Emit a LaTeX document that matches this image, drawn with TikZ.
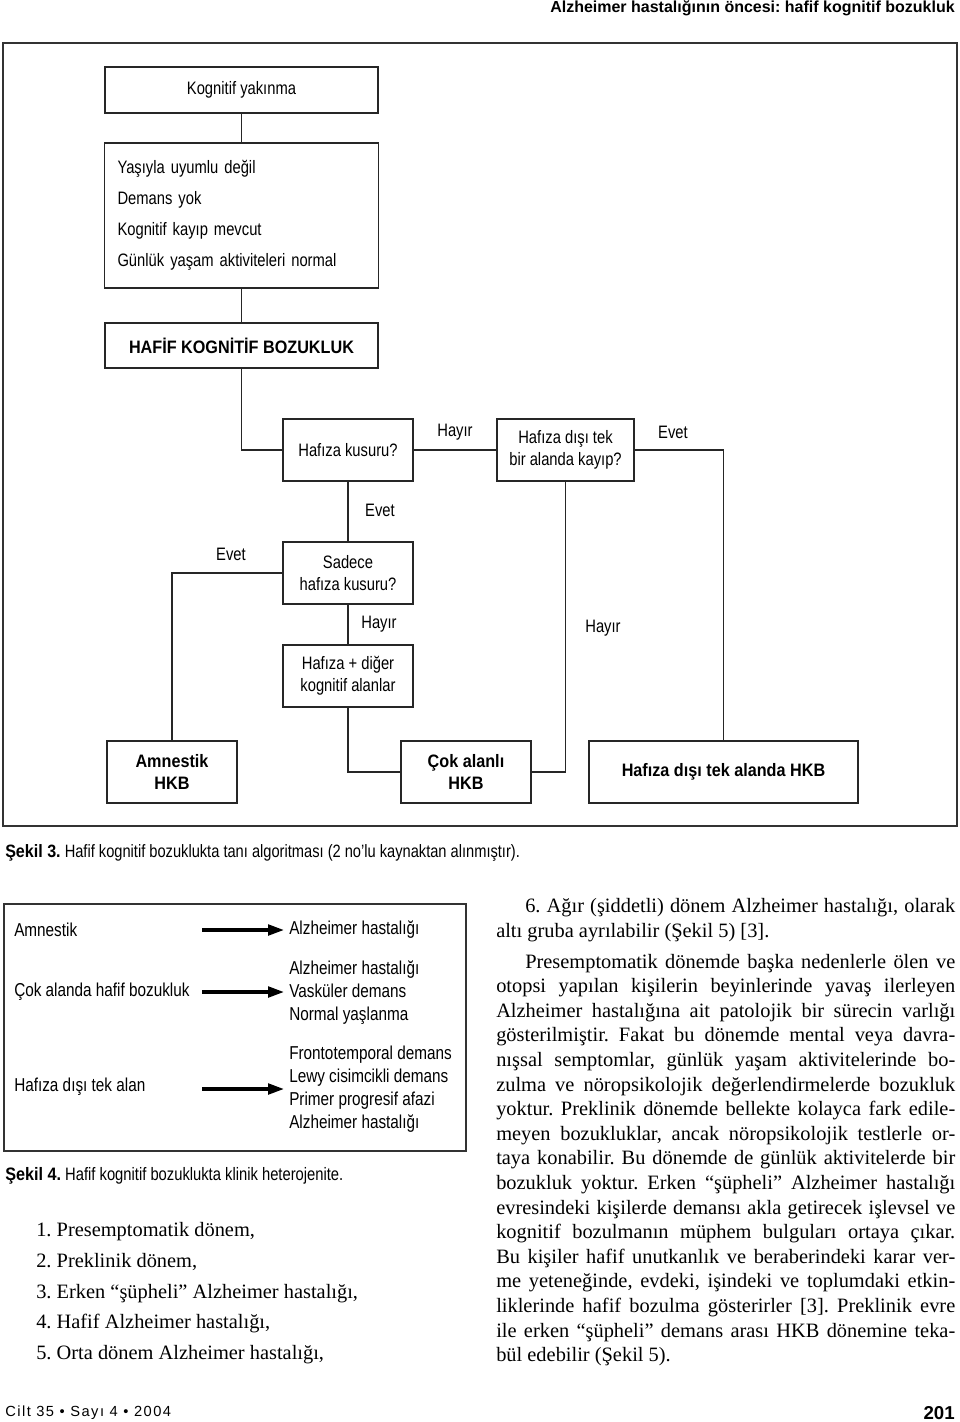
\documentclass[tikz,border=0pt]{standalone}
\usepackage{fontspec}
\setmainfont{Liberation Serif}
\newfontfamily\condsans[FakeStretch=0.82,BoldFeatures={FakeStretch=0.9}]{Liberation Sans}
\newfontfamily\plainsans{Liberation Sans}
\newfontfamily\spacedsans[LetterSpace=10]{Liberation Sans}
\usetikzlibrary{arrows.meta}
\frenchspacing

\newcommand{\jline}[1]{\makebox[344.25pt][s]{#1}}
\newcommand{\iline}[1]{\makebox[322.5pt][s]{#1}}

\begin{document}
\begin{tikzpicture}[x=0.75pt,y=-0.75pt,
  box/.style={draw=black!85,line width=0.9pt,inner sep=0pt,align=center,font=\condsans\fontsize{13.5}{16.6}\selectfont},
  sq/.style={box,minimum width=97.5pt,minimum height=46.5pt},
  hb/.style={font=\condsans\bfseries\fontsize{13.5}{16.6}\selectfont},
  lbl/.style={inner sep=0pt,font=\condsans\fontsize{13.5}{16}\selectfont},
  con/.style={black!85,line width=0.9pt},
  fig/.style={inner sep=0pt,anchor=west,align=left,font=\condsans\fontsize{14}{17.25}\selectfont},
  fat/.style={line width=2.4pt,-{Triangle[length=12pt,width=8pt]}},
  txt/.style={inner sep=0pt,anchor=base west,font=\fontsize{15.3}{18}\selectfont}]
\useasboundingbox (0,0) rectangle (960,1422);

\node[anchor=base east,inner sep=0pt,font=\plainsans\bfseries\fontsize{12}{14}\selectfont] (head) at (955,12) {Alzheimer hastalığının öncesi: hafif kognitif bozukluk};

% Sekil 3
\draw[black!80,line width=1.2pt] (3,43) rectangle (957,826);
\node[box,minimum width=204.75pt,minimum height=34.5pt] (kog) at (241.5,90) {Kognitif yakınma};
\node[box,align=left,text width=186pt,inner xsep=9.75pt,minimum height=108.75pt,font=\condsans\fontsize{13.5}{23.25}\selectfont] (crit) at (241.5,215.5) {Yaşıyla uyumlu değil\\Demans yok\\Kognitif kayıp mevcut\\Günlük yaşam aktiviteleri normal};
\node[box,hb,minimum width=204.75pt,minimum height=33.75pt] (hkb) at (241.5,345.5) {HAFİF KOGNİTİF BOZUKLUK};
\node[sq] (memq) at (348,450) {Hafıza kusuru?};
\node[sq,minimum width=102.75pt] (otherq) at (565.5,450) {Hafıza dışı tek\\bir alanda kayıp?};
\node[sq] (onlyq) at (348,573) {Sadece\\hafıza kusuru?};
\node[sq] (multi) at (348,676) {Hafıza + diğer\\kognitif alanlar};
\node[sq,hb] (amn) at (172,772) {Amnestik\\HKB};
\node[sq,hb] (cok) at (466,772) {Çok alanlı\\HKB};
\node[sq,hb,minimum width=201.75pt] (single) at (723.5,772) {Hafıza dışı tek alanda HKB};

\draw[con] (kog) -- (crit);
\draw[con] (crit) -- (hkb);
\draw[con] (hkb.south) |- (memq.west);
\draw[con] (memq) -- (otherq);
\draw[con] (otherq.east) -| (single.north);
\draw[con] (otherq.south) |- (cok.east);
\draw[con] (memq) -- (onlyq);
\draw[con] (onlyq.west) -| (amn.north);
\draw[con] (onlyq) -- (multi);
\draw[con] (multi.south) |- (cok.west);

\node[lbl] (no1) at (455,432) {Hayır};
\node[lbl] (yes1) at (673,432) {Evet};
\node[lbl] (yes2) at (380,510) {Evet};
\node[lbl] (yes3) at (231,554) {Evet};
\node[lbl] (no2) at (379,624) {Hayır};
\node[lbl] (no3) at (603,628) {Hayır};

\node[anchor=base west,inner sep=0pt,font=\condsans\fontsize{13.4}{16}\selectfont] (cap3) at (5,857) {\textbf{Şekil 3.} Hafif kognitif bozuklukta tanı algoritması (2 no’lu kaynaktan alınmıştır).};

% Sekil 4
\draw[black!80,line width=1pt] (4,904) rectangle (466,1151);
\node[fig] (f1) at (14,930) {Amnestik};
\node[fig] (f2) at (14,992) {Çok alanda hafif bozukluk};
\node[fig] (f3) at (14,1087) {Hafıza dışı tek alan};
\node[fig] (g1) at (289,930) {Alzheimer hastalığı};
\node[fig] (g2) at (289,993) {Alzheimer hastalığı\\Vasküler demans\\Normal yaşlanma};
\node[fig] (g3) at (289,1089) {Frontotemporal demans\\Lewy cisimcikli demans\\Primer progresif afazi\\Alzheimer hastalığı};
\coordinate (a1) at (202,930);
\coordinate (b1) at (284,930);
\coordinate (a2) at (202,992);
\coordinate (b2) at (284,992);
\coordinate (a3) at (202,1089);
\coordinate (b3) at (284,1089);
\draw[fat] (a1) -- (b1);
\draw[fat] (a2) -- (b2);
\draw[fat] (a3) -- (b3);

\node[anchor=base west,inner sep=0pt,font=\condsans\fontsize{13.5}{16}\selectfont] (cap4) at (5,1180) {\textbf{Şekil 4.} Hafif kognitif bozuklukta klinik heterojenite.};

% liste
\node[txt] (s1) at (36,1236) {1. Presemptomatik dönem,};
\node[txt] (s2) at (36,1267) {2. Preklinik dönem,};
\node[txt] (s3) at (36,1298) {3. Erken “şüpheli” Alzheimer hastalığı,};
\node[txt] (s4) at (36,1328) {4. Hafif Alzheimer hastalığı,};
\node[txt] (s5) at (36,1359) {5. Orta dönem Alzheimer hastalığı,};

% sag sutun
\node[txt] (r1) at (525,912) {\iline{6. Ağır (şiddetli) dönem Alzheimer hastalığı, olarak}};
\node[txt] (r2) at (496,937) {altı gruba ayrılabilir (Şekil 5) [3].};
\node[txt] (r3) at (525,968) {\iline{Presemptomatik dönemde başka nedenlerle ölen ve}};
\node[txt] (r4) at (496,992.6) {\jline{otopsi yapılan kişilerin beyinlerinde yavaş ilerleyen}};
\node[txt] (r5) at (496,1017.2) {\jline{Alzheimer hastalığına ait patolojik bir sürecin varlığı}};
\node[txt] (r6) at (496,1041.8) {\jline{gösterilmiştir. Fakat bu dönemde mental veya davra-}};
\node[txt] (r7) at (496,1066.4) {\jline{nışsal semptomlar, günlük yaşam aktivitelerinde bo-}};
\node[txt] (r8) at (496,1091) {\jline{zulma ve nöropsikolojik değerlendirmelerde bozukluk}};
\node[txt] (r9) at (496,1115.6) {\jline{yoktur. Preklinik dönemde bellekte kolayca fark edile-}};
\node[txt] (r10) at (496,1140.2) {\jline{meyen bozukluklar, ancak nöropsikolojik testlerle or-}};
\node[txt] (r11) at (496,1164.8) {\jline{taya konabilir. Bu dönemde de günlük aktivitelerde bir}};
\node[txt] (r12) at (496,1189.4) {\jline{bozukluk yoktur. Erken “şüpheli” Alzheimer hastalığı}};
\node[txt] (r13) at (496,1214) {\jline{evresindeki kişilerde demansı akla getirecek işlevsel ve}};
\node[txt] (r14) at (496,1238.6) {\jline{kognitif bozulmanın müphem bulguları ortaya çıkar.}};
\node[txt] (r15) at (496,1263.2) {\jline{Bu kişiler hafif unutkanlık ve beraberindeki karar ver-}};
\node[txt] (r16) at (496,1287.8) {\jline{me yeteneğinde, evdeki, işindeki ve toplumdaki etkin-}};
\node[txt] (r17) at (496,1312.4) {\jline{liklerinde hafif bozulma gösterirler [3]. Preklinik evre}};
\node[txt] (r18) at (496,1337) {\jline{ile erken “şüpheli” demans arası HKB dönemine teka-}};
\node[txt] (r19) at (496,1361.6) {bül edebilir (Şekil 5).};

\node[anchor=base west,inner sep=0pt,font=\spacedsans\fontsize{11}{13}\selectfont] (foot) at (5,1416) {Cilt 35 • Sayı 4 • 2004};
\node[anchor=base east,inner sep=0pt,font=\plainsans\bfseries\fontsize{14}{16}\selectfont] (page) at (955,1419) {201};
\end{tikzpicture}
\end{document}
